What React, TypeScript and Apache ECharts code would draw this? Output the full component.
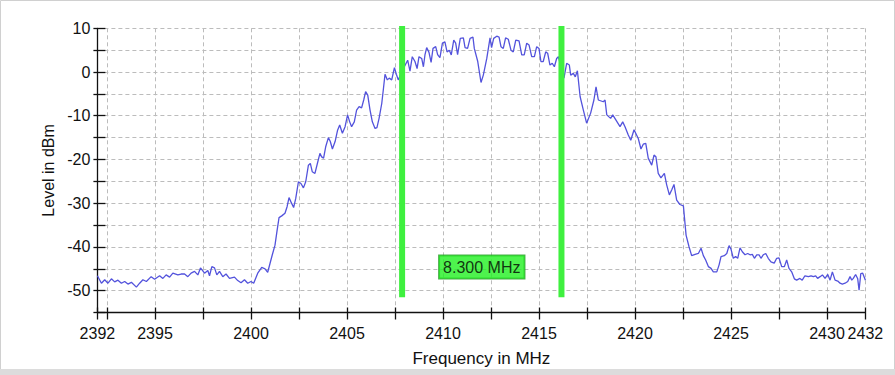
import React, { useEffect, useRef } from "react";
import * as echarts from "echarts";

// ---- data ----
const lowerBandNoise: [number, number][] = [
  [2392.0, -46.6], [2392.21, -48.3], [2392.38, -47.5], [2392.55, -48.3], [2392.73, -47.3], [2392.9, -48.0],
  [2393.07, -47.6], [2393.25, -48.3], [2393.42, -47.9], [2393.59, -48.5], [2393.77, -48.1], [2394.03, -49.2],
  [2394.2, -48.3], [2394.37, -47.5], [2394.55, -47.9], [2394.8, -46.8], [2394.98, -47.4], [2395.24, -46.6],
  [2395.41, -47.2], [2395.58, -46.4], [2395.76, -46.9], [2395.93, -46.0], [2396.19, -46.4], [2396.36, -46.2],
  [2396.54, -46.2], [2396.71, -46.8], [2396.88, -46.0], [2397.06, -45.6], [2397.23, -46.4], [2397.37, -44.8],
  [2397.58, -46.0], [2397.75, -45.4], [2397.84, -46.6], [2397.96, -44.5], [2398.1, -44.8], [2398.22, -46.4],
  [2398.36, -45.6], [2398.53, -46.8], [2398.7, -46.2], [2398.88, -47.2], [2399.14, -46.9], [2399.31, -47.7],
  [2399.48, -48.2], [2399.66, -47.5], [2399.83, -48.3], [2400.0, -47.9], [2400.14, -48.3],
];

const risingEdge: [number, number][] = [
  [2400.35, -46.0], [2400.56, -44.7], [2400.73, -45.0], [2400.87, -45.8], [2400.99, -43.8], [2401.11, -41.8],
  [2401.25, -39.6], [2401.35, -36.5], [2401.46, -33.3], [2401.6, -32.9], [2401.77, -32.3], [2401.88, -30.8],
  [2401.98, -28.7], [2402.08, -29.7], [2402.22, -31.0], [2402.33, -28.9], [2402.47, -25.1], [2402.6, -25.5],
  [2402.73, -26.5], [2402.85, -25.1], [2402.99, -21.3], [2403.09, -20.9], [2403.19, -22.8], [2403.33, -23.2],
  [2403.47, -20.7], [2403.59, -18.6], [2403.68, -19.4], [2403.78, -19.7], [2403.89, -17.1], [2404.03, -15.0],
  [2404.13, -15.9], [2404.24, -17.6], [2404.38, -15.9], [2404.51, -13.3], [2404.62, -12.1], [2404.76, -14.0],
  [2404.9, -12.5], [2405.03, -9.8], [2405.14, -11.4], [2405.24, -12.5], [2405.38, -11.4], [2405.5, -8.7],
  [2405.63, -7.9], [2405.76, -8.2], [2405.87, -6.4], [2405.97, -4.5], [2406.08, -5.3], [2406.2, -8.7],
  [2406.32, -11.4], [2406.46, -12.9], [2406.56, -12.7], [2406.67, -10.6], [2406.81, -7.2], [2406.89, -4.1],
  [2406.98, -0.5], [2407.1, -1.8], [2407.2, -1.4], [2407.33, -1.8], [2407.47, 1.0], [2407.57, -0.5],
  [2407.67, -1.8], [2407.9, 0.5],
];

const passband: [number, number][] = [
  [2408.16, 2.7], [2408.28, 0.2], [2408.4, 3.5], [2408.54, 2.4], [2408.65, 0.8], [2408.75, 3.5], [2408.89, 3.1],
  [2408.98, 1.2], [2409.06, 3.9], [2409.15, 5.6], [2409.27, 4.5], [2409.38, 2.2], [2409.48, 5.4], [2409.62, 5.8],
  [2409.72, 4.0], [2409.84, 3.3], [2409.97, 6.6], [2410.1, 6.9], [2410.21, 4.6], [2410.33, 5.0], [2410.43, 3.9],
  [2410.56, 7.3], [2410.66, 6.6], [2410.76, 4.0], [2410.9, 7.7], [2411.06, 7.8], [2411.15, 5.6], [2411.28, 5.4],
  [2411.41, 7.7], [2411.56, 8.0], [2411.63, 5.4], [2411.81, 2.4], [2411.98, -2.4], [2412.1, -0.7], [2412.28, 3.1],
  [2412.45, 7.8], [2412.53, 5.6], [2412.64, 7.7], [2412.8, 8.2], [2412.92, 8.0], [2413.02, 5.8], [2413.14, 5.4],
  [2413.26, 7.8], [2413.4, 7.5], [2413.54, 5.0], [2413.66, 4.6], [2413.79, 7.3], [2413.96, 7.1], [2414.1, 3.9],
  [2414.23, 3.9], [2414.36, 6.6], [2414.48, 6.2], [2414.62, 3.5], [2414.76, 3.5], [2414.88, 5.8], [2415.0, 5.4],
  [2415.1, 2.4], [2415.22, 2.4], [2415.35, 4.6], [2415.45, 4.3], [2415.57, 1.6], [2415.69, 2.0], [2415.8, 1.2],
  [2415.92, 3.1], [2416.01, 3.5],
];

const fallingEdge: [number, number][] = [
  [2416.3, -1.4], [2416.44, 2.0], [2416.58, 1.6], [2416.65, -0.7], [2416.79, -0.3], [2416.89, -1.1], [2417.0, 0.3],
  [2417.14, -5.6], [2417.31, -8.7], [2417.48, -11.7], [2417.69, -9.4], [2417.86, -6.4], [2417.97, -3.4],
  [2418.09, -6.4], [2418.35, -6.8], [2418.44, -6.4], [2418.53, -9.8], [2418.73, -10.6], [2418.84, -9.8],
  [2419.01, -11.0], [2419.22, -12.5], [2419.36, -11.4], [2419.48, -12.5], [2419.65, -14.4], [2419.78, -15.6],
  [2419.95, -13.2], [2420.17, -15.2], [2420.31, -17.6], [2420.43, -16.5], [2420.56, -16.3], [2420.69, -19.7],
  [2420.87, -21.3], [2420.99, -19.0], [2421.09, -19.4], [2421.21, -23.2], [2421.35, -24.2], [2421.53, -23.2],
  [2421.65, -25.8], [2421.79, -28.1], [2421.91, -27.0], [2422.03, -25.7], [2422.17, -29.3], [2422.34, -30.3],
  [2422.52, -30.6], [2422.66, -37.3], [2422.81, -39.9], [2422.95, -42.0],
];

const upperBandNoise: [number, number][] = [
  [2423.13, -41.7], [2423.3, -41.5], [2423.44, -40.3], [2423.56, -42.0], [2423.68, -43.0], [2423.82, -44.5],
  [2423.96, -44.9], [2424.08, -45.7], [2424.26, -45.7], [2424.38, -44.1], [2424.48, -42.2], [2424.65, -42.0],
  [2424.78, -41.5], [2424.9, -39.7], [2425.0, -40.5], [2425.12, -42.6], [2425.24, -42.2], [2425.35, -42.6],
  [2425.47, -40.2], [2425.59, -41.1], [2425.73, -41.8], [2425.87, -41.5], [2425.99, -41.8], [2426.11, -41.7],
  [2426.22, -42.6], [2426.34, -41.8], [2426.46, -41.8], [2426.56, -42.6], [2426.68, -41.8], [2426.81, -41.5],
  [2426.94, -42.6], [2427.08, -43.4], [2427.25, -43.7], [2427.38, -42.6], [2427.5, -42.5], [2427.64, -44.5],
  [2427.78, -44.5], [2427.9, -43.0], [2428.02, -44.9], [2428.16, -45.7], [2428.3, -47.3], [2428.42, -47.6],
  [2428.59, -47.2], [2428.71, -47.6], [2428.85, -46.6], [2429.03, -46.8], [2429.17, -46.6], [2429.29, -46.8],
  [2429.41, -46.6], [2429.51, -47.2], [2429.64, -46.8], [2429.76, -46.4], [2429.9, -47.2], [2430.04, -46.3],
  [2430.16, -47.6], [2430.28, -45.7], [2430.42, -47.6], [2430.56, -47.8], [2430.68, -48.3], [2430.8, -48.5],
  [2430.94, -48.3], [2431.08, -47.9], [2431.2, -46.8], [2431.29, -47.6], [2431.37, -47.2], [2431.49, -46.3],
  [2431.6, -47.3], [2431.67, -49.9], [2431.76, -46.1], [2431.86, -46.0], [2432.0, -47.6],
];

const markerFrequencies = [2407.87, 2416.17];
const markerLevelRange = [10.5, -51.5];
const bandwidthLabel = "8.300 MHz";
const bandwidthLabelLevel = -44.6;

const xTickValues = [
  2392, 2392.5, 2395, 2397.5, 2400, 2402.5, 2405, 2407.5, 2410, 2412.5, 2415, 2417.5, 2420, 2422.5, 2425,
  2427.5, 2430, 2432,
];
const xLabelValues = [2392, 2395, 2400, 2405, 2410, 2415, 2420, 2425, 2430, 2432];
const yMin = -55;
const yMax = 10;
const yStep = 5;

const FONT = "'Liberation Sans', Arial, sans-serif";

export default function App() {
  const ref = useRef<HTMLDivElement>(null);

  useEffect(() => {
    if (!ref.current) return;
    const chart = echarts.init(ref.current, undefined, { renderer: "svg" });
    const trace = [...lowerBandNoise, ...risingEdge, ...passband, ...fallingEdge, ...upperBandNoise];
    const xMin = xTickValues[0];
    const xMax = xTickValues[xTickValues.length - 1];
    const gridColor = "#bcbcbc";
    const axisColor = "#111";

    const baseX = {
      type: "value",
      min: xMin,
      max: xMax,
      position: "bottom",
    };
    const baseY = {
      type: "value",
      min: yMin,
      max: yMax,
      interval: yStep,
      position: "left",
    };

    chart.setOption({
      animation: false,
      backgroundColor: "#fff",
      grid: { left: 97.4, right: 29.6, top: 28.3, bottom: 62.5, containLabel: false },
      xAxis: [
        {
          ...baseX,
          name: "Frequency in MHz",
          nameLocation: "middle",
          nameGap: 37,
          nameTextStyle: { color: axisColor, fontSize: 17, fontFamily: FONT },
          axisLine: { show: true, onZero: false, lineStyle: { color: axisColor, width: 1.3 } },
          axisTick: { show: true, inside: false, length: 7, customValues: xTickValues, lineStyle: { color: axisColor, width: 1.3 } },
          axisLabel: {
            show: true,
            customValues: xLabelValues,
            margin: 13,
            color: axisColor,
            fontSize: 16,
            fontFamily: FONT,
            formatter: (v: number) => String(v),
          },
          splitLine: { show: true, lineStyle: { color: gridColor, type: [4, 3], width: 1 } },
        },
        {
          ...baseX,
          axisLine: { show: false, onZero: false },
          axisTick: { show: true, inside: true, length: 5, customValues: xTickValues, lineStyle: { color: axisColor, width: 1.3 } },
          axisLabel: { show: false },
          splitLine: { show: false },
        },
      ],
      yAxis: [
        {
          ...baseY,
          name: "Level in dBm",
          nameLocation: "middle",
          nameGap: 40,
          nameTextStyle: { color: axisColor, fontSize: 16, fontFamily: FONT },
          axisLine: { show: true, onZero: false, lineStyle: { color: axisColor, width: 1.3 } },
          axisTick: { show: true, inside: false, length: 4, lineStyle: { color: axisColor, width: 1.3 } },
          axisLabel: {
            show: true,
            margin: 7,
            color: axisColor,
            fontSize: 16,
            fontFamily: FONT,
            formatter: (v: number) => (v % 10 === 0 ? String(v) : ""),
          },
          splitLine: { show: true, lineStyle: { color: gridColor, type: [4, 3], width: 1 } },
        },
        {
          ...baseY,
          axisLine: { show: false, onZero: false },
          axisTick: { show: true, inside: true, length: 8, lineStyle: { color: axisColor, width: 1.3 } },
          axisLabel: { show: false },
          splitLine: { show: false },
        },
      ],
      series: [
        {
          type: "line",
          data: trace,
          showSymbol: false,
          symbol: "none",
          lineStyle: { color: "#5353dc", width: 1.3 },
          z: 2,
        },
        ...markerFrequencies.map((f) => ({
          type: "line",
          data: markerLevelRange.map((v) => [f, v]),
          showSymbol: false,
          symbol: "none",
          clip: false,
          lineStyle: { color: "#3ff03f", width: 6 },
          z: 3,
        })),
        {
          type: "scatter",
          data: [[(markerFrequencies[0] + markerFrequencies[1]) / 2, bandwidthLabelLevel]],
          symbolSize: 2,
          itemStyle: { color: "rgba(0,0,0,0)" },
          z: 4,
          label: {
            show: true,
            position: "inside",
            formatter: bandwidthLabel,
            color: "#000",
            fontSize: 16,
            fontFamily: FONT,
            backgroundColor: "#22f022",
            borderColor: "#1c9a1c",
            borderWidth: 1,
            padding: [4, 4, 3, 4],
          },
        },
      ],
      graphic: [
        {
          type: "rect",
          shape: { x: 0.5, y: 0.5, width: 894, height: 369 },
          style: { fill: "none", stroke: "#d0d0d0", lineWidth: 1 },
          silent: true,
        },
        {
          type: "rect",
          shape: { x: 0, y: 369, width: 895, height: 6 },
          style: { fill: "#dcdcdc" },
          silent: true,
        },
      ],
    });
    return () => chart.dispose();
  }, []);

  return <div ref={ref} style={{ position: "absolute", left: 0, top: 0, width: 895, height: 375 }} />;
}
